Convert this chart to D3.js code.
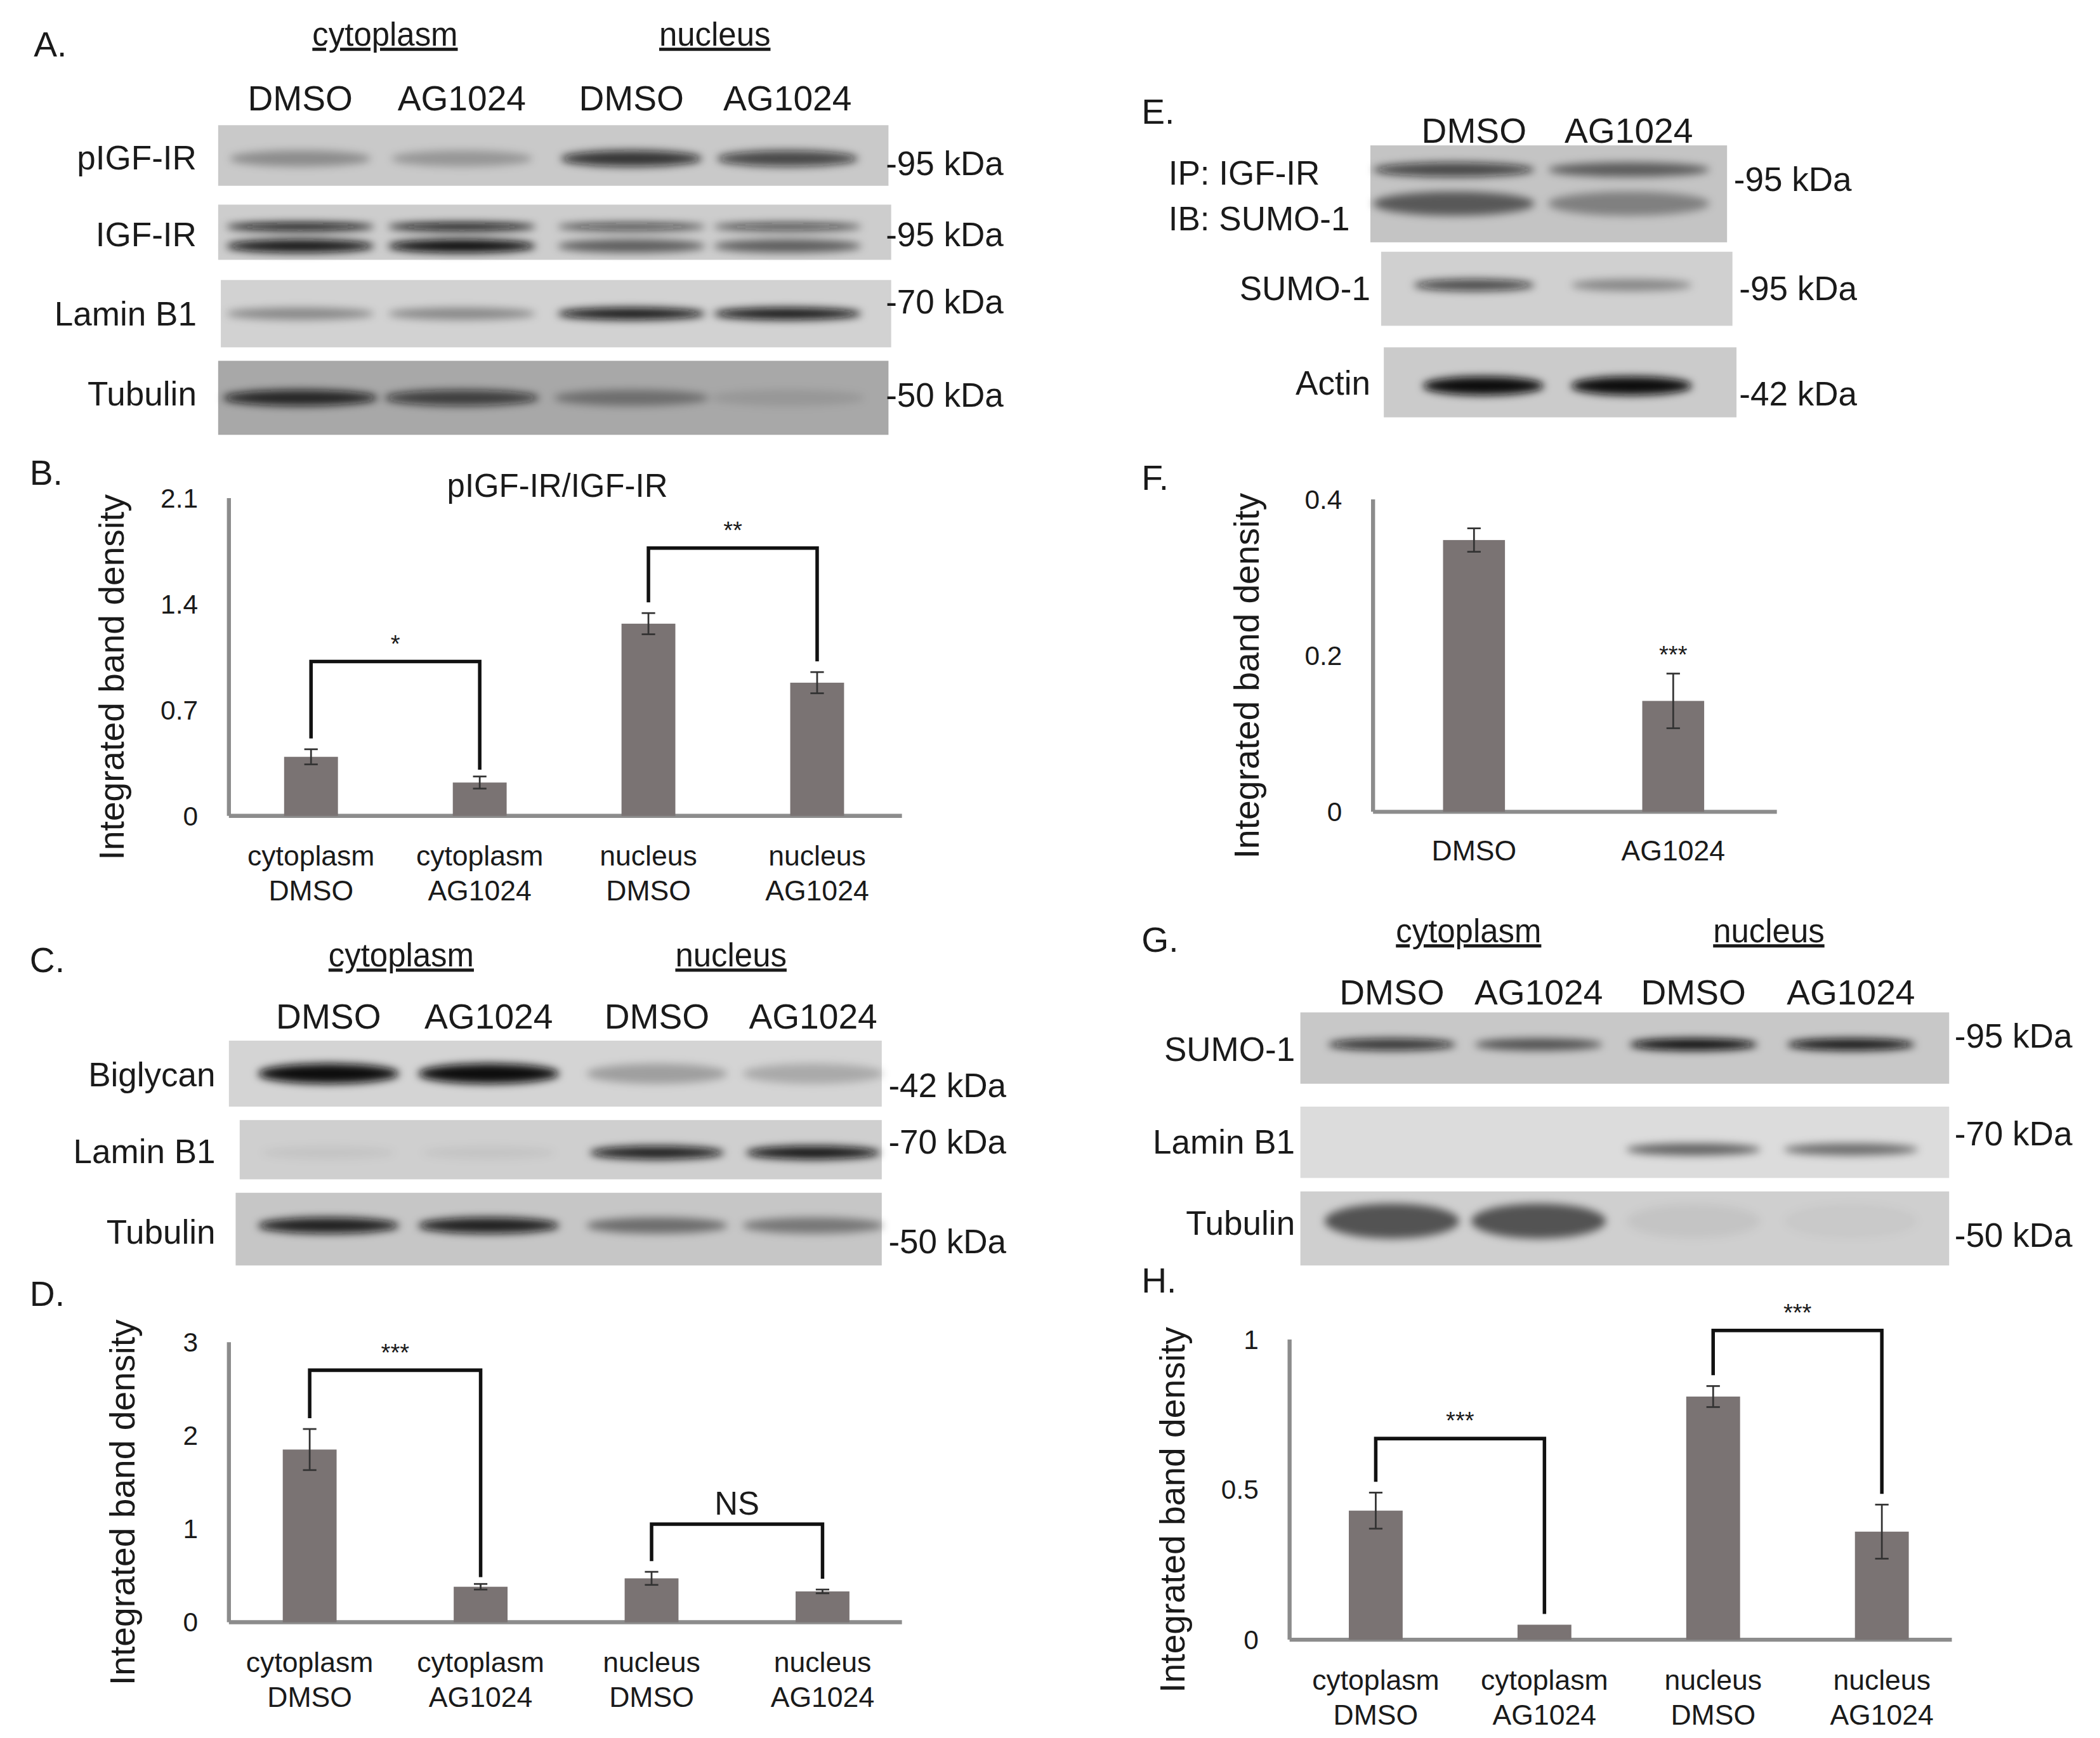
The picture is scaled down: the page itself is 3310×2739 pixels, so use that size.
<!DOCTYPE html>
<html>
<head>
<meta charset="UTF-8">
<style>
  body { margin: 0; background: #fff; }
  text { font-family: "Liberation Sans", Arial, sans-serif; fill: #1a1a1a; }
</style>
</head>
<body>
<svg id="fig" width="3310" height="2739" viewBox="0 0 1560 1291"></svg>
<script src="https://d3js.org/d3.v7.min.js"></script>
<script>
  // ---------- data ----------
  var fourGroups = [["cytoplasm", "DMSO"], ["cytoplasm", "AG1024"], ["nucleus", "DMSO"], ["nucleus", "AG1024"]];
  var twoGroups = ["DMSO", "AG1024"];

  var bValues = [0.39, 0.22, 1.27, 0.88];
  var bErrors = [0.05, 0.04, 0.07, 0.07];
  var bTicks = [0, 0.7, 1.4, 2.1];

  var dValues = [1.85, 0.38, 0.47, 0.33];
  var dErrors = [0.22, 0.03, 0.07, 0.02];
  var dTicks = [0, 1, 2, 3];

  var fValues = [0.348, 0.142];
  var fErrors = [0.015, 0.035];
  var fTicks = [0, 0.2, 0.4];

  var hValues = [0.43, 0.05, 0.81, 0.36];
  var hErrors = [0.06, 0.0, 0.035, 0.09];
  var hTicks = [0, 0.5, 1];

  // blot band intensities per lane (0..1)
  var aBands = {
    "pIGF-IR": [0.3, 0.25, 0.8, 0.7],
    "IGF-IR": [0.95, 1.0, 0.55, 0.55],
    "Lamin B1": [0.35, 0.35, 0.95, 0.95],
    "Tubulin": [0.85, 0.7, 0.35, 0.1]
  };
  var cBands = {
    "Biglycan": [1.0, 1.0, 0.25, 0.2],
    "Lamin B1": [0.05, 0.05, 0.9, 0.95],
    "Tubulin": [0.9, 0.9, 0.45, 0.4]
  };
  var eBands = {
    "IP": [0.55, 0.35],
    "SUMO-1": [0.7, 0.35],
    "Actin": [1.0, 1.0]
  };
  var gBands = {
    "SUMO-1": [0.8, 0.6, 1.0, 0.95],
    "Lamin B1": [0.0, 0.0, 0.55, 0.5],
    "Tubulin": [0.6, 0.6, 0.05, 0.03]
  };

  var svg = d3.select("#fig");
  var defs = svg.append("defs");
  defs.append("filter").attr("id", "blur").attr("x", "-30%").attr("y", "-100%")
    .attr("width", "160%").attr("height", "300%")
    .append("feGaussianBlur").attr("stdDeviation", 3);

  function txt(x, y, s, size, anchor) {
    return svg.append("text").attr("x", x).attr("y", y).attr("font-size", size)
      .attr("text-anchor", anchor || "start").text(s);
  }

  function header(labelX, labelY, letter, groupX, groupY, lanesX, lanesY, lanes) {
    txt(labelX, labelY, letter, 26);
    if (groupX) {
      ["cytoplasm", "nucleus"].forEach(function (g, i) {
        var t = txt(groupX[i], groupY, g, 24, "middle").attr("text-decoration", "underline");
      });
    }
    lanes.forEach(function (l, i) { txt(lanesX[i], lanesY, l, 26, "middle"); });
  }

  // a blot strip: rect with blurred bands
  function blot(x0, x1, y0, y1, bg, lanesX, intens, bandY, bandW, bandH, dbl) {
    svg.append("rect").attr("x", x0).attr("y", y0).attr("width", x1 - x0).attr("height", y1 - y0)
      .attr("fill", bg);
    var g = svg.append("g").attr("filter", "url(#blur)");
    var ys = dbl ? [bandY - 0.2, bandY + 0.15] : [bandY];
    ys.forEach(function (fy, k) {
      g.selectAll(null).data(intens).enter().append("ellipse")
        .attr("cx", function (d, i) { return lanesX[i]; })
        .attr("cy", y0 + (y1 - y0) * (0.5 + fy))
        .attr("rx", bandW / 2)
        .attr("ry", bandH / 2 * (dbl && k === 0 ? 0.6 : 1))
        .attr("fill", "#0a0a0a")
        .attr("opacity", function (d) { return dbl && k === 0 ? Math.min(1, d * 0.8 + 0.25) : d; });
    });
  }

  function barChart(opt) {
    var y = d3.scaleLinear().domain([0, d3.max(opt.ticks)]).range([opt.y0, opt.y1]);
    var x = d3.scalePoint().domain(d3.range(opt.values.length)).range(opt.xr);
    var g = svg.append("g");
    // axes
    g.append("line").attr("x1", opt.x0).attr("x2", opt.x0).attr("y1", opt.y1).attr("y2", opt.y0)
      .attr("stroke", "#8c8c8c").attr("stroke-width", 3);
    g.append("line").attr("x1", opt.x0).attr("x2", opt.xe).attr("y1", opt.y0).attr("y2", opt.y0)
      .attr("stroke", "#8c8c8c").attr("stroke-width", 3);
    g.selectAll(".tk").data(opt.ticks).enter().append("text")
      .attr("x", opt.x0 - 23).attr("y", function (d) { return y(d) + 7; })
      .attr("text-anchor", "end").attr("font-size", 20).text(function (d) { return d; });
    // bars
    g.selectAll(".bar").data(opt.values).enter().append("rect")
      .attr("x", function (d, i) { return x(i) - opt.bw / 2; })
      .attr("y", function (d) { return y(d); })
      .attr("width", opt.bw)
      .attr("height", function (d) { return opt.y0 - y(d); })
      .attr("fill", "#7a7373");
    // error bars
    opt.values.forEach(function (v, i) {
      var e = opt.errors[i];
      if (!e) return;
      var eg = g.append("g").attr("stroke", "#333").attr("stroke-width", 1.3);
      eg.append("line").attr("x1", x(i)).attr("x2", x(i)).attr("y1", y(v - e)).attr("y2", y(v + e));
      [v - e, v + e].forEach(function (w) {
        eg.append("line").attr("x1", x(i) - 5).attr("x2", x(i) + 5).attr("y1", y(w)).attr("y2", y(w));
      });
    });
    // category labels
    opt.labels.forEach(function (l, i) {
      if (Array.isArray(l)) {
        txt(x(i), opt.y0 + 37, l[0], 21, "middle");
        txt(x(i), opt.y0 + 63, l[1], 21, "middle");
      } else {
        txt(x(i), opt.y0 + 36, l, 21, "middle");
      }
    });
    // y title
    svg.append("text").attr("transform", "translate(" + opt.titleX + "," + ((opt.y0 + opt.y1) / 2 + 15) + ") rotate(-90)")
      .attr("text-anchor", "middle").attr("font-size", 26).text("Integrated  band  density");
    // brackets
    (opt.brackets || []).forEach(function (b) {
      var a = b[0], c = b[1];
      var top = y(b[2]);
      var la = y(opt.values[a] + opt.errors[a]) - b[3], lc = y(opt.values[c] + opt.errors[c]) - b[4];
      g.append("path").attr("fill", "none").attr("stroke", "#111").attr("stroke-width", 2.6)
        .attr("d", "M" + x(a) + "," + la + "V" + top + "H" + x(c) + "V" + lc);
      txt((x(a) + x(c)) / 2, top - 7, b[5], b[5] === "NS" ? 24 : 18, "middle");
    });
    if (opt.stars) {
      opt.stars.forEach(function (s) {
        txt(x(s[0]), y(opt.values[s[0]] + opt.errors[s[0]]) - 8, s[1], 18, "middle");
      });
    }
    return y;
  }

  // ---------- Panel A ----------
  var aLanes = [223, 343, 469, 585];
  header(25, 42, "A.", [286, 531], 34, aLanes, 82, ["DMSO", "AG1024", "DMSO", "AG1024"]);
  blot(162, 660, 93, 138, "#c9c9c9", aLanes, aBands["pIGF-IR"], 0.05, 105, 12);
  blot(162, 662, 152, 193, "#cdcdcd", aLanes, aBands["IGF-IR"], 0.1, 110, 10, true);
  blot(164, 662, 208, 258, "#d2d2d2", aLanes, aBands["Lamin B1"], 0.0, 110, 9);
  blot(162, 660, 268, 323, "#a8a8a8", aLanes, aBands["Tubulin"], 0.0, 115, 12);
  [["pIGF-IR", 126], ["IGF-IR", 183], ["Lamin B1", 242], ["Tubulin", 301]].forEach(function (r) { txt(146, r[1], r[0], 25, "end"); });
  [["-95 kDa", 130], ["-95 kDa", 183], ["-70 kDa", 233], ["-50 kDa", 302]].forEach(function (r) { txt(658, r[1], r[0], 25); });

  // ---------- Panel B ----------
  txt(22, 360, "B.", 26);
  txt(414, 369, "pIGF-IR/IGF-IR", 24, "middle");
  barChart({ values: bValues, errors: bErrors, ticks: bTicks, labels: fourGroups,
    x0: 170, xe: 670, y0: 606, y1: 370, xr: [231, 607], bw: 40, titleX: 92,
    brackets: [[0, 1, 1.02, 8, 5, "*"], [2, 3, 1.77, 8, 8, "**"]] });

  // ---------- Panel C ----------
  var cLanes = [244, 363, 488, 604];
  header(22, 722, "C.", [298, 543], 718, cLanes, 764, ["DMSO", "AG1024", "DMSO", "AG1024"]);
  blot(170, 655, 773, 822, "#d4d4d4", cLanes, cBands["Biglycan"], 0.0, 105, 15);
  blot(178, 655, 832, 876, "#cfcfcf", cLanes, cBands["Lamin B1"], 0.05, 100, 10);
  blot(175, 655, 886, 940, "#c6c6c6", cLanes, cBands["Tubulin"], -0.05, 105, 12);
  [["Biglycan", 807], ["Lamin B1", 864], ["Tubulin", 924]].forEach(function (r) { txt(160, r[1], r[0], 25, "end"); });
  [["-42 kDa", 815], ["-70 kDa", 857], ["-50 kDa", 931]].forEach(function (r) { txt(660, r[1], r[0], 25); });

  // ---------- Panel D ----------
  txt(22, 970, "D.", 26);
  barChart({ values: dValues, errors: dErrors, ticks: dTicks, labels: fourGroups,
    x0: 170, xe: 670, y0: 1205, y1: 997, xr: [230, 611], bw: 40, titleX: 100,
    brackets: [[0, 1, 2.7, 8, 5, "***"], [2, 3, 1.05, 8, 8, "NS"]] });

  // ---------- Panel E ----------
  var eLanes = [1095, 1210];
  header(848, 92, "E.", null, 0, eLanes, 106, ["DMSO", "AG1024"]);
  blot(1018, 1283, 108, 180, "#c4c4c4", [1080, 1210], eBands["IP"], -0.05, 120, 18, true);
  blot(1026, 1287, 187, 242, "#d0d0d0", [1095, 1212], eBands["SUMO-1"], -0.05, 90, 9);
  blot(1028, 1290, 258, 310, "#cbcbcb", [1102, 1212], eBands["Actin"], 0.05, 90, 14);
  txt(868, 137, "IP: IGF-IR", 25);
  txt(868, 171, "IB: SUMO-1", 25);
  txt(1018, 223, "SUMO-1", 25, "end");
  txt(1018, 293, "Actin", 25, "end");
  [["-95 kDa", 142, 1288], ["-95 kDa", 223, 1292], ["-42 kDa", 301, 1292]].forEach(function (r) { txt(r[2], r[1], r[0], 25); });

  // ---------- Panel F ----------
  txt(848, 364, "F.", 26);
  barChart({ values: fValues, errors: fErrors, ticks: fTicks, labels: twoGroups,
    x0: 1020, xe: 1320, y0: 603, y1: 371, xr: [1095, 1243], bw: 46, titleX: 935,
    stars: [[1, "***"]] });

  // ---------- Panel G ----------
  var gLanes = [1034, 1143, 1258, 1375];
  header(848, 707, "G.", [1091, 1314], 700, gLanes, 746, ["DMSO", "AG1024", "DMSO", "AG1024"]);
  blot(966, 1448, 752, 805, "#c8c8c8", gLanes, gBands["SUMO-1"], -0.05, 95, 9);
  blot(966, 1448, 822, 875, "#dcdcdc", gLanes, gBands["Lamin B1"], 0.1, 100, 9);
  blot(966, 1448, 885, 940, "#cfcfcf", gLanes, gBands["Tubulin"], -0.1, 100, 26);
  [["SUMO-1", 788], ["Lamin B1", 857], ["Tubulin", 917]].forEach(function (r) { txt(962, r[1], r[0], 25, "end"); });
  [["-95 kDa", 778], ["-70 kDa", 851], ["-50 kDa", 926]].forEach(function (r) { txt(1452, r[1], r[0], 25); });

  // ---------- Panel H ----------
  txt(848, 960, "H.", 26);
  barChart({ values: hValues, errors: hErrors, ticks: hTicks, labels: fourGroups,
    x0: 958, xe: 1450, y0: 1218, y1: 995, xr: [1022, 1398], bw: 40, titleX: 880,
    brackets: [[0, 1, 0.67, 8, 8, "***"], [2, 3, 1.03, 8, 8, "***"]] });
</script>
</body>
</html>
